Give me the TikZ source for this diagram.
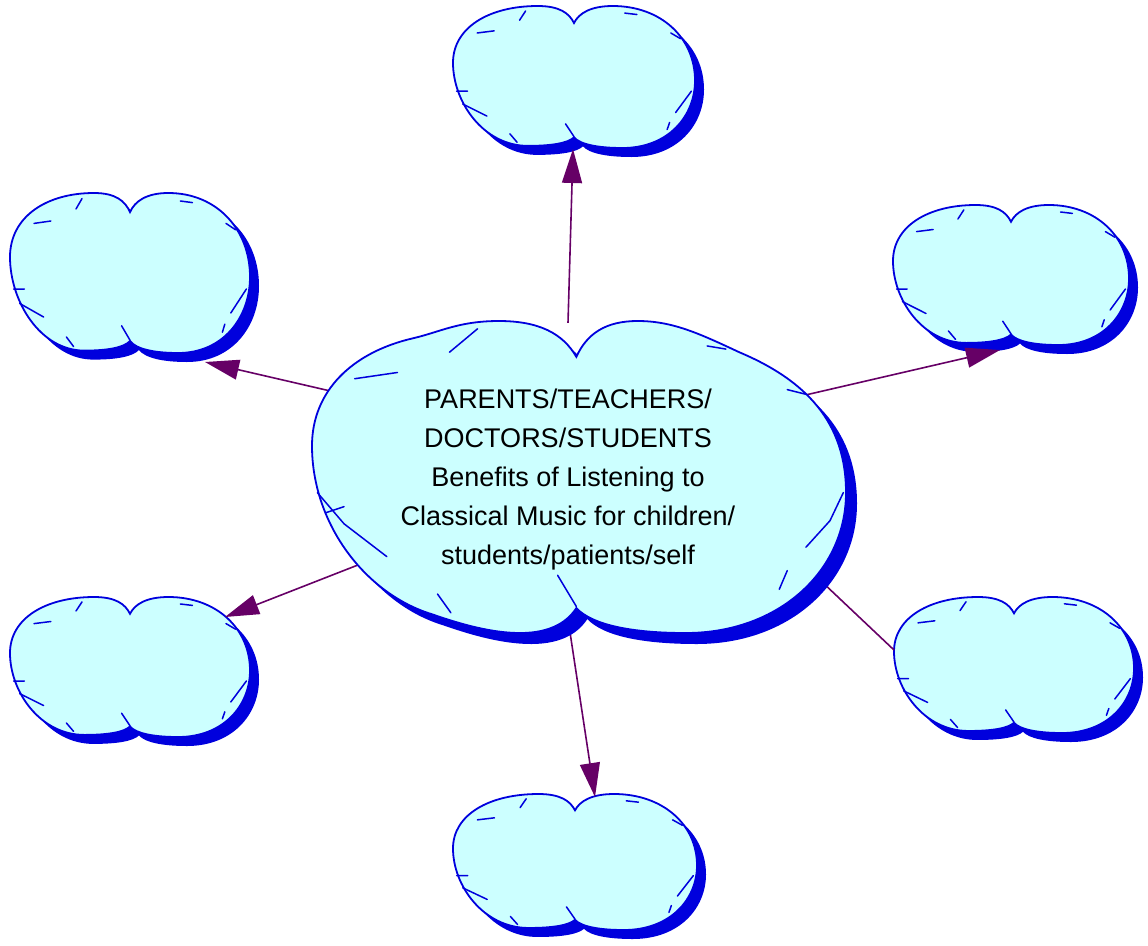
\documentclass[tikz,border=0pt]{standalone}
\usepackage{fontspec}
\setmainfont{Liberation Sans}
\usetikzlibrary{arrows.meta,calc,shapes.geometric}
\definecolor{cloudfill}{HTML}{CCFFFF}
\definecolor{cloudblue}{HTML}{0000DD}
\definecolor{connpurple}{HTML}{660066}
\pgfdeclarelayer{cloudlayer}
\pgfdeclarelayer{connlayer}
\pgfdeclarelayer{centerlayer}
\pgfsetlayers{cloudlayer,connlayer,centerlayer,main}
\tikzset{
  cloudnode/.style={ellipse, draw=none, inner sep=0pt},
  cloudbody/.style={fill=cloudfill, draw=cloudblue, line width=1.8pt},
  cloudshade/.style={fill=cloudblue},
  cloudmark/.style={draw=cloudblue, line width=1.5pt, line cap=round},
  conn/.style={draw=connpurple, line width=1.6pt},
  arr/.style={-{Triangle[length=34pt,width=20pt]}},
}
% #1 cx, #2 cy, #3 half width, #4 half height, #5 shadow offset, #6 outline path, #7 marks
\newcommand\drawcloud[7]{%
  \fill[cloudshade,shift={(#1+#5,#2+#5)},xscale=#3,yscale=#4] #6;
  \filldraw[cloudbody,shift={(#1,#2)},xscale=#3,yscale=#4] #6;
  \draw[cloudmark,shift={(#1,#2)},xscale=#3,yscale=#4] #7;
}
\newcommand\smallcloud[4]{%
  \drawcloud{#1}{#2}{#3}{#4}{9}{%
    (0,-0.76) .. controls (-0.04,-0.9) and (-0.12,-1) .. (-0.3,-1)
    .. controls (-0.7,-1) and (-1,-0.7) .. (-1,-0.2)
    .. controls (-1,0.35) and (-0.75,0.97) .. (-0.38,0.97)
    .. controls (-0.18,0.97) and (-0.05,0.93) .. (0,0.85)
    .. controls (0.05,0.95) and (0.2,1) .. (0.4,1)
    .. controls (0.78,1) and (1,0.55) .. (1,0.05)
    .. controls (1,-0.55) and (0.72,-1) .. (0.32,-1)
    .. controls (0.14,-1) and (0.04,-0.9) .. (0,-0.76) -- cycle}{%
    (-0.8,-0.62)--(-0.66,-0.65)
    (-0.45,-0.8)--(-0.4,-0.93)
    (-0.97,0.2)--(-0.88,0.2)
    (-0.92,0.38)--(-0.72,0.55)
    (-0.53,0.8)--(-0.47,0.92)
    (-0.07,0.66)--(0,0.84)
    (0.84,0.5)--(0.97,0.2)
    (0.77,0.74)--(0.79,0.64)
    (0.8,-0.62)--(0.88,-0.54)
    (0.42,-0.9)--(0.52,-0.88)}%
}
\begin{document}
\begin{tikzpicture}[x=1pt,y=-1pt]
\useasboundingbox (0,0) rectangle (1148,945);
% nodes
\node[cloudnode, minimum width=242pt, minimum height=142pt] (top) at (574,77) {};
\node[cloudnode, minimum width=240pt, minimum height=160pt] (ul) at (131,272) {};
\node[cloudnode, minimum width=236pt, minimum height=140pt] (ur) at (1011,275) {};
\node[cloudnode, minimum width=238pt, minimum height=140pt] (ll) at (129,668) {};
\node[cloudnode, minimum width=240pt, minimum height=136pt] (lr) at (1014,665) {};
\node[cloudnode, minimum width=244pt, minimum height=136pt] (bot) at (575,862) {};
\node[cloudnode, minimum width=532pt, minimum height=314pt, align=center,
      font=\fontsize{27pt}{39pt}\selectfont] (c) at (568,480)
  {PARENTS/TEACHERS/\\DOCTORS/STUDENTS\\Benefits of Listening to\\Classical Music for children/\\students/patients/self};
% outer clouds
\begin{pgfonlayer}{cloudlayer}
\smallcloud{574}{77}{121}{71}
\smallcloud{130}{273}{120}{80}
\smallcloud{1011}{275}{118}{70}
\smallcloud{130}{667}{120}{70}
\smallcloud{1014}{665}{120}{68}
\smallcloud{575}{862}{122}{68}
\end{pgfonlayer}
% connectors
\begin{pgfonlayer}{connlayer}
\draw[conn,arr] (c.90.7) -- ($(top.center)+(-1,72)$);
\draw[conn,arr] (c.159.2) -- ($(ul.center)+(74,90)$);
\draw[conn,arr] (c.20.1) -- ($(ur.center)+(-11,75)$);
\draw[conn,arr,shorten <=-16pt] (c.202.2) -- ($(ll.center)+(96,-51)$);
\draw[conn,arr,shorten <=-20pt] (c.271.9) -- ($(bot.center)+(20,-65)$);
\draw[conn] (c.341.7) -- ($(lr.center)+(-120,-15)$);
\end{pgfonlayer}
% centre cloud
\begin{pgfonlayer}{centerlayer}
\drawcloud{579}{477}{267}{156}{11}{%
  (-0.01,-0.77) .. controls (-0.06,-0.92) and (-0.15,-1) .. (-0.3,-1)
  .. controls (-0.45,-1) and (-0.52,-0.93) .. (-0.62,-0.89)
  .. controls (-0.85,-0.8) and (-1,-0.55) .. (-1,-0.2)
  .. controls (-1,0.3) and (-0.8,0.75) .. (-0.55,0.88)
  .. controls (-0.4,0.97) and (-0.3,1) .. (-0.22,1)
  .. controls (-0.1,1) and (-0.04,0.92) .. (-0.01,0.84)
  .. controls (0.05,0.95) and (0.2,1) .. (0.4,1)
  .. controls (0.75,1) and (1,0.6) .. (1,0.1)
  .. controls (1,-0.35) and (0.85,-0.62) .. (0.6,-0.8)
  .. controls (0.45,-0.92) and (0.35,-1) .. (0.22,-1)
  .. controls (0.1,-1) and (0.03,-0.92) .. (-0.01,-0.77) -- cycle}{%
  (-0.485,-0.8)--(-0.38,-0.95)
  (-0.68,-0.67)--(-0.84,-0.63)
  (-0.98,0.1)--(-0.88,0.3)--(-0.72,0.51)
  (-0.95,0.23)--(-0.88,0.19)
  (-0.53,0.75)--(-0.48,0.87)
  (-0.08,0.63)--(-0.01,0.83)
  (0.85,0.45)--(0.94,0.28)--(0.99,0.1)
  (0.75,0.72)--(0.78,0.6)
  (0.78,-0.56)--(0.85,-0.53)
  (0.48,-0.84)--(0.55,-0.82)}
\end{pgfonlayer}
\end{tikzpicture}
\end{document}
